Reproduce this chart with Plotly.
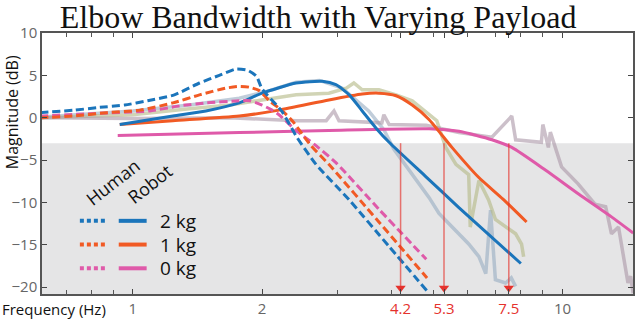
import plotly.graph_objs as go

# human model (dashed) and robot model (solid)
f_human_2kg = [0.609, 0.733, 0.829, 0.958, 1.083, 1.25, 1.43, 1.59, 1.74, 1.85, 1.94, 2.0, 2.22, 2.41, 2.67, 3.19, 3.95, 4.89]
m_human_2kg = [0.6, 0.9, 1.2, 1.5, 2.0, 2.7, 4.1, 5.0, 5.75, 5.6, 4.9, 3.4, 0.8, -2.3, -5.5, -9.7, -15.2, -20.7]
f_human_1kg = [0.609, 0.726, 0.87, 1.04, 1.24, 1.43, 1.65, 1.77, 1.87, 1.97, 2.08, 2.23, 2.35, 2.6, 2.86, 3.74, 4.84]
m_human_1kg = [0.0, 0.2, 0.6, 0.9, 1.75, 2.7, 3.5, 3.7, 3.6, 3.2, 2.0, 0.8, -0.35, -3.3, -5.5, -12.3, -18.9]
f_human_0kg = [0.609, 0.816, 1.095, 1.285, 1.48, 1.77, 1.87, 2.0, 2.11, 2.19, 2.40, 2.67, 2.97, 3.74, 4.82]
m_human_0kg = [0.2, 0.5, 0.8, 1.4, 1.75, 2.0, 2.0, 1.5, 0.9, 0.35, -1.5, -3.3, -5.3, -10.8, -16.7]

f_robot_2kg = [0.933, 1.24, 1.48, 1.77, 2.0, 2.40, 2.76, 2.97, 3.19, 3.42, 3.68, 3.95, 4.82, 5.74, 8.0]
m_robot_2kg = [-0.8, 0.2, 0.8, 1.75, 2.9, 4.1, 4.3, 3.9, 2.7, 0.8, -1.2, -2.9, -7.0, -10.6, -17.2]
f_robot_1kg = [0.933, 1.24, 1.77, 2.19, 2.86, 3.42, 3.74, 4.10, 4.47, 4.89, 5.53, 6.37, 7.27, 8.25]
m_robot_1kg = [-0.8, -0.35, 0.2, 0.9, 2.1, 2.8, 2.9, 2.6, 1.5, -0.2, -3.5, -7.0, -9.6, -12.3]
f_robot_0kg = [0.923, 1.77, 2.86, 4.89, 5.74, 6.85, 7.62, 9.14, 10.9, 13.0, 14.6]
m_robot_0kg = [-2.1, -1.75, -1.5, -1.3, -1.6, -2.6, -3.5, -6.2, -9.0, -11.7, -13.6]

# measured robot responses (noisy)
f_meas_2kg = [0.615, 0.753, 1.0, 1.356, 1.77, 2.08, 2.40, 2.72, 3.07, 3.54, 3.84, 4.05, 4.47, 4.89, 5.16, 5.44, 5.74, 6.05, 6.39, 6.63, 6.80, 6.98, 7.37, 7.6, 7.78]
m_meas_2kg = [0.1, 0.35, 0.8, 1.5, 2.3, 3.2, 4.2, 4.4, 3.5, 0.8, -1.4, -3.7, -6.7, -9.4, -11.3, -12.5, -13.7, -14.9, -16.4, -18.4, -10.9, -19.1, -19.5, -18.9, -19.9]
f_meas_1kg = [0.615, 1.0, 1.356, 1.68, 2.0, 2.40, 2.86, 3.14, 3.27, 3.42, 3.74, 4.10, 4.47, 4.89, 5.1, 5.35, 5.65, 6.05, 6.1, 6.39, 6.73, 6.98, 7.37, 7.78, 8.03, 8.12]
m_meas_1kg = [0.0, 0.35, 1.05, 1.5, 2.1, 2.7, 2.9, 3.5, 4.1, 3.3, 3.3, 2.7, 2.0, 0.35, -0.35, -3.5, -5.5, -6.7, -12.9, -7.4, -9.7, -12.0, -12.9, -13.7, -14.9, -16.4]
f_meas_0kg = [0.615, 1.0, 1.68, 2.40, 2.82, 2.94, 3.02, 3.80, 3.84, 3.95, 4.82, 5.74, 6.85, 7.62, 7.78, 8.93, 9.0, 9.27, 9.37, 9.67, 9.95, 10.87, 11.9, 12.6, 13.0, 13.5, 13.8, 14.2, 14.4, 14.6]
m_meas_0kg = [0.0, -0.1, 0.0, -0.35, -0.35, 0.8, -0.35, -0.6, 0.35, -0.8, -0.9, -1.75, -2.3, 0.2, -2.6, -2.9, -0.8, -3.5, -1.7, -3.7, -5.8, -7.8, -10.2, -10.5, -13.7, -12.9, -15.6, -19.5, -18.7, -20.7]

bandwidths = [4.2, 5.3, 7.5]
x_tickvals = [1, 2, 4.2, 5.3, 7.5, 10]
x_ticktext = ["1", "2", "4.2", "5.3", "7.5", "10"]
y_tickvals = [-20, -15, -10, -5, 0, 5, 10]

blue = "#1b75bb"
orange = "#f15a24"
pink = "#df5aa9"
red = "#e5322d"

# plot area in pixels (for the hand-made legend)
L, R, T, B = 42, 635, 33, 297
def px(x):
    return (x - L) / (R - L)
def py(y):
    return (B - y) / (B - T)

fig = go.Figure()

meas = [(f_meas_2kg, m_meas_2kg, "rgba(150,172,194,0.6)"),
        (f_meas_1kg, m_meas_1kg, "rgba(178,184,132,0.6)"),
        (f_meas_0kg, m_meas_0kg, "rgba(170,150,166,0.6)")]
for f, m, c in meas:
    fig.add_trace(go.Scatter(x=f, y=m, mode="lines", line=dict(color=c, width=3.5)))

for f, m, c in [(f_robot_0kg, m_robot_0kg, pink), (f_robot_1kg, m_robot_1kg, orange), (f_robot_2kg, m_robot_2kg, blue)]:
    fig.add_trace(go.Scatter(x=f, y=m, mode="lines", line=dict(color=c, width=3, shape="spline", smoothing=0.6)))

for f, m, c in [(f_human_0kg, m_human_0kg, pink), (f_human_1kg, m_human_1kg, orange), (f_human_2kg, m_human_2kg, blue)]:
    fig.add_trace(go.Scatter(x=f, y=m, mode="lines", line=dict(color=c, width=3, dash="8px,4px", shape="spline", smoothing=0.6)))

# bandwidth arrows
ax, ay = [], []
for b in bandwidths:
    ax += [b, b, None]
    ay += [-3, -20.2, None]
fig.add_trace(go.Scatter(x=ax, y=ay, mode="lines", line=dict(color="rgba(229,50,45,0.65)", width=1.5)))
fig.add_trace(go.Scatter(x=bandwidths, y=[-20.1] * 3, mode="markers",
                         marker=dict(symbol="triangle-down", size=9, color=red)))

# -3 dB band
fig.add_shape(type="rect", xref="paper", yref="y", x0=0, x1=1, y0=-20.8, y1=-3,
              fillcolor="#e5e5e6", line_width=0, layer="below")

# legend drawn by hand
rows = [(223, blue, "2 kg"), (247, orange, "1 kg"), (271, pink, "0 kg")]
for yy, c, lab in rows:
    fig.add_shape(type="line", xref="paper", yref="paper", x0=px(80), x1=px(108), y0=py(yy), y1=py(yy),
                  line=dict(color=c, width=4, dash="4px,3px"))
    fig.add_shape(type="line", xref="paper", yref="paper", x0=px(119), x1=px(147), y0=py(yy), y1=py(yy),
                  line=dict(color=c, width=4))
    fig.add_annotation(xref="paper", yref="paper", x=px(158), y=py(yy), text=lab, showarrow=False,
                       xanchor="left", yanchor="middle", font=dict(family="Open Sans", size=19, color="#111"))
fig.add_annotation(xref="paper", yref="paper", x=px(113), y=py(184), text="Human", textangle=-38,
                   xanchor="center", yanchor="middle",
                   showarrow=False, font=dict(family="Open Sans", size=18, color="#111"))
fig.add_annotation(xref="paper", yref="paper", x=px(150), y=py(186), text="Robot", textangle=-38,
                   xanchor="center", yanchor="middle",
                   showarrow=False, font=dict(family="Open Sans", size=18, color="#111"))

fig.add_annotation(xref="paper", yref="paper", x=px(0), y=py(312), text="Frequency (Hz)", showarrow=False,
                   xanchor="left", yanchor="middle", font=dict(family="Open Sans", size=15, color="#111"))
fig.add_annotation(xref="paper", yref="paper", x=px(12), y=py(113), text="Magnitude (dB)", textangle=-90,
                   showarrow=False, xanchor="center", yanchor="middle", font=dict(family="Open Sans", size=16, color="#111"))

ticktext = [f'<span style="color:{red}">{t}</span>' if float(t) in bandwidths else t for t in x_ticktext]

fig.update_layout(
    width=640, height=323, margin=dict(l=L, r=640 - R, t=T, b=323 - B),
    paper_bgcolor="white", plot_bgcolor="white", showlegend=False,
    title=dict(text="Elbow Bandwidth with Varying Payload", x=0.497, xanchor="center", y=0.948, yanchor="middle",
               font=dict(family="Liberation Serif", size=32, color="#111")),
    xaxis=dict(type="log", range=[-0.211, 1.164], tickvals=x_tickvals, ticktext=ticktext,
               ticks="inside", ticklen=5, showline=True, linecolor="#555", linewidth=1.5, mirror="ticks",
               showgrid=False, zeroline=False, tickfont=dict(family="Open Sans", size=15, color="#666"),
               minor=dict(tickvals=[0.7, 0.8, 0.9, 3, 4, 5, 6, 7, 8, 9], ticks="inside", ticklen=4, tickcolor="#555")),
    yaxis=dict(range=[-20.8, 10], tickvals=y_tickvals, ticks="inside", ticklen=5, showline=True,
               linecolor="#555", linewidth=1.5, mirror="ticks", showgrid=False, zeroline=False,
               tickfont=dict(family="Open Sans", size=15, color="#666")),
)

fig.write_html("out.html", config={"displayModeBar": False},
               post_script="document.body.style.margin='0';")
